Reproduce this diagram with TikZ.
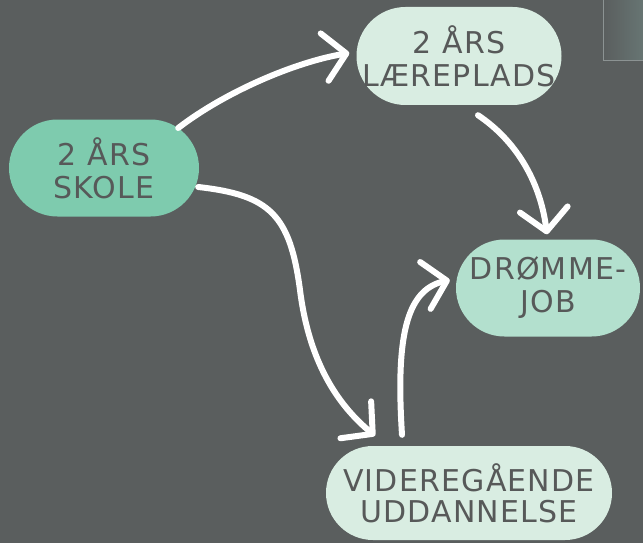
\documentclass[tikz,border=0pt]{standalone}
\usepackage{fontspec}
\setmainfont[LetterSpace=4]{DejaVu Sans}
\usetikzlibrary{arrows.meta}
\definecolor{bg}{HTML}{5A5E5E}
\definecolor{skolefill}{HTML}{7ECBAE}
\definecolor{lightfill}{HTML}{D9EDE2}
\definecolor{dromfill}{HTML}{B3E0CE}
\definecolor{txt}{HTML}{575959}
\definecolor{cornerfill}{HTML}{677573}
\definecolor{corneredge}{HTML}{8C9393}
\begin{document}
\begin{tikzpicture}[x=1pt,y=-1pt,
  pill/.style={rectangle, rounded corners=#1, inner sep=0pt, text=txt, align=center,
    font=\fontsize{30}{33}\selectfont},
  chalk/.style={draw=white, line width=6pt, line cap=round, line join=round,
    -{Straight Barb[length=22pt,width=48pt,round]}}]
% background
\fill[bg] (0,0) rectangle (643,543);
\useasboundingbox (0,0) rectangle (643,543);
% corner panel
\shade[left color=bg, right color=cornerfill] (603,0) rectangle (643,61);
\draw[corneredge, line width=1pt] (603.5,0) -- (603.5,61) -- (643,61);
% nodes
\node[pill=48.5pt, fill=skolefill, minimum width=190pt, minimum height=97pt] (skole) at (104,168) {2 ÅRS\\SKOLE};
\node[pill=49pt, fill=lightfill, minimum width=205pt, minimum height=98pt] (laer) at (459,56) {2 ÅRS\\LÆREPLADS};
\node[pill=48.5pt, fill=dromfill, minimum width=184pt, minimum height=97pt] (drom) at (548,288) {DRØMME-\\JOB};
\node[pill=47pt, fill=lightfill, minimum width=286pt, minimum height=94pt, font=\fontsize{30}{31}\selectfont] (vid) at (469,493) {VIDEREGÅENDE\\UDDANNELSE};
% connectors
\draw[chalk] ([shift={(-21,-40)}]skole.east) .. controls (225,92) and (295,62) .. ([shift={(-7,-3)}]laer.west);
\draw[chalk] ([shift={(-1,19)}]skole.east) .. controls (270,195) and (290,215) .. (300,290)
  .. controls (310,370) and (344,410) .. ([shift={(-94,-10)}]vid.north);
\draw[chalk] ([shift={(19,10)}]laer.south) .. controls (515,140) and (540,180) .. ([shift={(-1,-5)}]drom.north);
\draw[chalk] ([shift={(-67,-11)}]vid.north) .. controls (396,340) and (405,290) .. ([shift={(-6,-8)}]drom.west);
\end{tikzpicture}
\end{document}
